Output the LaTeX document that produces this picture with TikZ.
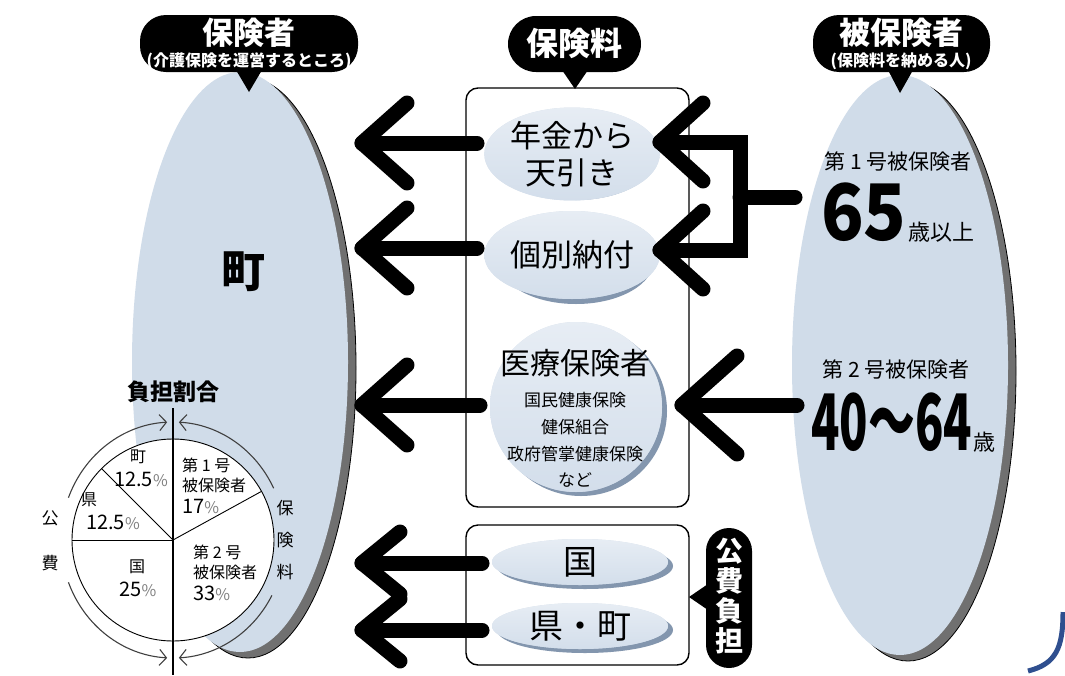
\documentclass[tikz,border=0pt]{standalone}
\usepackage{fontspec}
\usepackage{graphicx}
\setmainfont{Noto Sans CJK JP}
\usetikzlibrary{arrows.meta,calc,shapes.geometric}
\newcommand\jfs[1]{\fontsize{#1}{#1}\selectfont}
\newcommand\pctg{{\color{gray}\jfs{16}\%}}
\definecolor{ellfill}{HTML}{D0DCE9}
\definecolor{ellshadow}{HTML}{707070}
\definecolor{smfill}{HTML}{D3DEEB}
\definecolor{smshadow}{HTML}{8396AE}
\definecolor{arcgray}{HTML}{404040}
\definecolor{cornerblue}{HTML}{2F4F8F}
\begin{document}
\begin{tikzpicture}[x=1pt,y=-1pt,
  bigell/.style={ellipse, inner sep=0pt, minimum width=216pt, minimum height=580pt, fill=ellfill},
  bigsh/.style={ellipse, inner sep=0pt, minimum width=216pt, minimum height=580pt, fill=ellshadow, draw=black, line width=0.8pt},
  sm/.style={ellipse, inner sep=0pt, fill=smfill, top color=white!45!smfill, bottom color=smfill},
  smsh/.style={ellipse, inner sep=0pt, fill=smshadow},
  callout/.style={fill=black, inner sep=0pt},
  wtxt/.style={text=white, inner sep=0pt, font=\bfseries},
  boxst/.style={draw=black, line width=1.4pt, rounded corners=12pt, inner sep=0pt, minimum width=223pt},
  bigarrow/.style={line width=15pt, line cap=round, line join=round, draw=black},
  pieline/.style={draw=black, line width=0.9pt},
  arcline/.style={draw=arcgray, line width=1.1pt, -{Straight Barb[length=7pt,width=16pt]}},
  ptxt/.style={inner sep=0pt, font=\jfs{16}},
  pnum/.style={inner sep=0pt, font=\jfs{20}},
]
\useasboundingbox (0,0) rectangle (1065,675);
\fill[white] (0,0) rectangle (1065,675);

% ---- big ellipses
\node[bigsh] at (248,368) {};
\node[bigell] (hokensha) at (240,362) {};
\node[bigsh] at (908,371) {};
\node[bigell] (hihoken) at (900,365) {};

\node[inner sep=0pt, font=\bfseries\jfs{44}] (machi) at (243,272) {町};

% ---- callouts
\node[callout, rounded corners=26pt, minimum width=218pt, minimum height=57pt] (c1) at (249,43.5) {};
\fill[black] (236,70) -- (262,70) -- (249,92) -- cycle;
\node[wtxt, font=\bfseries\jfs{31}] at (249,33) {保険者};
\node[wtxt, font=\bfseries\jfs{16}] at (249,61) {(介護保険を運営するところ)};

\node[callout, rounded corners=28pt, minimum width=133pt, minimum height=56pt] (c2) at (574.5,44) {};
\fill[black] (562,70) -- (588,70) -- (575,89) -- cycle;
\node[wtxt, font=\bfseries\jfs{32}] at (574.5,43) {保険料};

\node[callout, rounded corners=26pt, minimum width=177pt, minimum height=57pt] (c3) at (901.5,43.5) {};
\fill[black] (888,70) -- (913,70) -- (900,93) -- cycle;
\node[wtxt, font=\bfseries\jfs{31}] at (901,33) {被保険者};
\node[wtxt, font=\bfseries\jfs{16}] at (901,61) {(保険料を納める人)};

% ---- middle boxes
\node[boxst, minimum height=419pt] (pbox) at (577.5,297.5) {};
\node[boxst, minimum height=140pt] (kbox) at (577.5,595) {};

\node[callout, rounded corners=23pt, minimum width=46pt, minimum height=140pt] (c4) at (729,598) {};
\fill[black] (708,584) -- (708,610) -- (689,597) -- cycle;
\node[wtxt, align=center, font=\bfseries\fontsize{28}{30}\selectfont] at (729,596) {公\\費\\負\\担};

% ---- small ellipses
\node[smsh, minimum width=156pt, minimum height=82pt] at (576,159) {};
\node[sm, minimum width=156pt, minimum height=82pt, align=center, font=\fontsize{31}{37}\selectfont] (nenkin) at (572,154) {年金から\\天引き};
\node[smsh, minimum width=156pt, minimum height=88pt] at (576,260) {};
\node[sm, minimum width=156pt, minimum height=88pt, font=\jfs{31}] (kobetsu) at (572,255) {個別納付};
\node[smsh, minimum width=172pt, minimum height=170pt] at (581,411) {};
\node[sm, minimum width=172pt, minimum height=170pt] (iryo) at (576,407) {};
\node[inner sep=0pt, font=\jfs{30}] at (575,363) {医療保険者};
\node[inner sep=0pt, align=center, font=\fontsize{17}{26.7}\selectfont] at (575,440) {国民健康保険\\健保組合\\政府管掌健康保険\\など};
\node[smsh, minimum width=176pt, minimum height=46pt] at (585,566) {};
\node[sm, minimum width=176pt, minimum height=46pt, font=\jfs{34}] (kuni) at (580,562) {国};
\node[smsh, minimum width=176pt, minimum height=46pt] at (585,630) {};
\node[sm, minimum width=176pt, minimum height=46pt, font=\jfs{34}] (kencho) at (580,626) {県・町};

% ---- right texts
\node[inner sep=0pt, font=\jfs{21}] (dai1) at (898,162) {第 1 号被保険者};
\node[anchor=base west, inner sep=0pt] (age65) at (821,240) {\scalebox{0.9}[1]{\bfseries\jfs{78}65}\,{\jfs{22}歳以上}};
\node[inner sep=0pt, font=\jfs{21}] (dai2) at (896,370) {第 2 号被保険者};
\node[anchor=base west, inner sep=0pt] (age40) at (811,450) {\scalebox{0.6}[1]{\bfseries\jfs{78}40〜64}\,{\jfs{22}歳}};

% ---- arrows to the left ellipse
\coordinate (a1t) at (362,143); \coordinate (a1s) at (477,143);
\coordinate (a2t) at (362,248); \coordinate (a2s) at (477,248);
\coordinate (a3t) at (362,405); \coordinate (a3s) at (480,405);
\coordinate (a4t) at (362,563); \coordinate (a4s) at (482,563);
\coordinate (a5t) at (362,630); \coordinate (a5s) at (482,630);
\foreach \n in {a1,a2,a3}{
  \draw[bigarrow] (\n s) -- (\n t);
  \draw[bigarrow] ($(\n t)+(45,-40)$) -- (\n t) -- ($(\n t)+(45,40)$);
}
\foreach \n in {a4,a5}{
  \draw[bigarrow] (\n s) -- (\n t);
  \draw[bigarrow] ($(\n t)+(38,-31)$) -- (\n t) -- ($(\n t)+(38,31)$);
}

% ---- arrows from insured
\coordinate (b1t) at (660,142);
\coordinate (b2t) at (660,250);
\coordinate (bj) at (740,197);
\coordinate (b0) at (795,197);
\draw[bigarrow, line join=miter] (b1t) -- (740,142) -- (740,250) -- (b2t);
\draw[bigarrow] (bj) -- (b0);
\draw[bigarrow] ($(b1t)+(43,-39)$) -- (b1t) -- ($(b1t)+(43,39)$);
\draw[bigarrow] ($(b2t)+(43,-39)$) -- (b2t) -- ($(b2t)+(43,39)$);
\coordinate (b3t) at (682,405); \coordinate (b3s) at (797,405);
\draw[bigarrow] (b3s) -- (b3t);
\draw[bigarrow] ($(b3t)+(55,-49)$) -- (b3t) -- ($(b3t)+(55,49)$);

% ---- pie chart
\coordinate (pc) at (173,540);
\node[inner sep=0pt, font=\bfseries\jfs{23}] (futan) at (173,392) {負担割合};
\fill[white] (pc) circle[radius=101];
\draw[pieline] (pc) circle[radius=101];
\draw[pieline] (pc) -- ++(-101,0);
\draw[pieline] (pc) -- ++(-135:101);
\draw[pieline] (pc) -- ++(-28.8:101);
\draw[line width=2.2pt] (173,408) -- (173,675);

\draw[arcline] (pc) ++(-159:112 and 118) arc[start angle=-159, end angle=-93, x radius=112, y radius=118];
\draw[arcline] (pc) ++(-201:112 and 118) arc[start angle=-201, end angle=-267, x radius=112, y radius=118];
\draw[arcline] (pc) ++(-26:112 and 118) arc[start angle=-26, end angle=-87, x radius=112, y radius=118];
\draw[arcline] (pc) ++(28:112 and 118) arc[start angle=28, end angle=87, x radius=112, y radius=118];

\node[ptxt, font=\jfs{17}] at (50,518) {公};
\node[ptxt, font=\jfs{17}] at (50,563) {費};
\node[ptxt, font=\jfs{17}] at (285,508) {保};
\node[ptxt, font=\jfs{17}] at (285,540) {険};
\node[ptxt, font=\jfs{17}] at (285,572) {料};

\node[ptxt] at (138,457) {町};
\node[pnum] at (141,479) {12.5\pctg};
\node[ptxt, anchor=west] at (81,500) {県};
\node[pnum, anchor=west] at (86,522) {12.5\pctg};
\node[ptxt] at (137,567) {国};
\node[pnum] at (138,589) {25\pctg};
\node[ptxt, anchor=west] at (182,465) {第 1 号};
\node[ptxt, anchor=west] at (182,485) {被保険者};
\node[pnum, anchor=west] at (182,506) {17\pctg};
\node[ptxt, anchor=west] at (193,552) {第 2 号};
\node[ptxt, anchor=west] at (193,572) {被保険者};
\node[pnum, anchor=west] at (193,593) {33\pctg};

% ---- corner decoration
\draw[cornerblue, line width=5pt] (1063,612) .. controls (1063,648) and (1056,664) .. (1028,671);
\end{tikzpicture}
\end{document}
